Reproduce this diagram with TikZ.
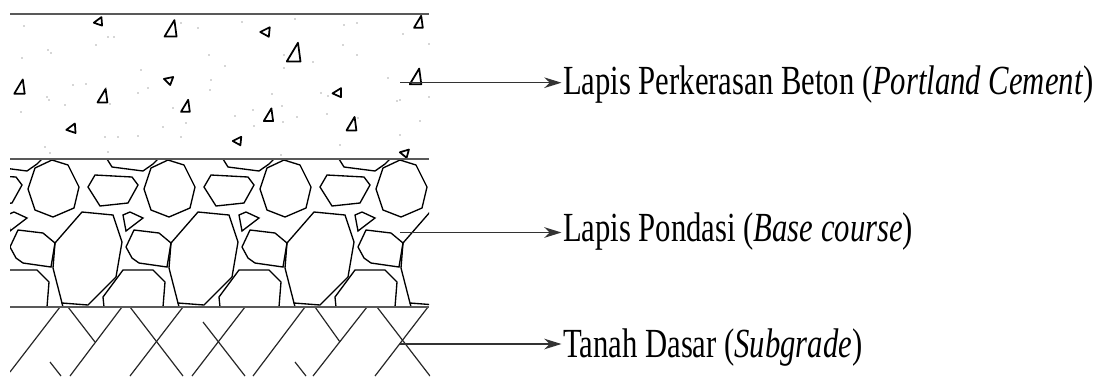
\documentclass[tikz,border=0pt]{standalone}
\usepackage{fontspec}
\setmainfont{Liberation Serif}
\usetikzlibrary{arrows.meta}
\begin{document}
\begin{tikzpicture}[x=0.75pt,y=-0.75pt,
  layerline/.style={draw=black!65,line width=1.6pt},
  stone/.style={draw=black,line width=1pt,line join=miter},
  soil/.style={draw=black!85,line width=0.9pt},
  agg/.style={draw=black,line width=1.3pt,line join=round},
  speck/.style={fill=black!70},
  leader/.style={draw=black!80,line width=1pt,-{Stealth[length=13pt,width=8pt]}},
  lbl/.style={anchor=base west,inner xsep=1pt,inner ysep=0pt,font=\fontsize{23}{27}\selectfont},
  tri/.pic={\path[agg] (-5,6) -- (6,6) -- (4,-9) -- cycle;},
  wedge/.pic={\path[agg] (-5,0) -- (5,-5) -- (4,5) -- cycle;},
]
\useasboundingbox (0,0) rectangle (1098,376);

% ---------- concrete slab: coarse aggregate and fine specks ----------
\foreach \px/\py/\s in {170/30/1.1, 293/54/1.25, 418/23/0.8, 19/88/0.95, 102/97/0.9,
                        415/78/1.05, 185/107/0.8, 268/116/0.85, 351/125/0.9}
  \pic[scale=\s] at (\px,\py) {tri};
\foreach \px/\py/\s/\r in {98/22/0.85/10, 265/32/0.95/0, 168/80/0.85/-15, 337/93/0.9/5,
                           71/129/0.95/10, 237/141/0.85/0, 404/153/0.85/-10}
  \pic[scale=\s,rotate=\r] at (\px,\py) {wedge};
\foreach \px/\py in {181/23,198/28,242/22,295/19,344/25,357/23,108/37,114/37,48/50,51/53,
                     96/45,22/58,209/55,284/55,225/66,284/68,313/62,343/45,357/55,403/34,
                     429/44,141/70,211/80,210/90,73/85,86/84,106/88,138/93,148/88,47/97,
                     49/100,65/105,110/104,173/108,272/94,321/93,328/96,388/78,397/101,
                     400/100,429/97,21/112,235/116,253/110,282/106,297/117,327/114,
                     186/123,163/127,254/126,283/122,358/118,420/121,105/137,118/137,
                     181/137,400/135,340/145,45/147,50/153,108/152,281/155,24/26,138/136}
  \fill[speck] (\px,\py) circle (0.6);

% ---------- base course: packed stones, one repeating tile ----------
\newcommand\basetile{%
  \path[stone] (52,160) -- (68,165) -- (79,187) -- (74,208) -- (53,217) -- (35,210) -- (28,189) -- (35,168) -- cycle;
  \path[stone] (95,175) -- (132,177) -- (138,185) -- (128,203) -- (100,206) -- (88,187) -- cycle;
  \path[stone] (107,159) -- (112,167) -- (143,171) -- (153,164) -- (158,159);
  \path[stone] (123,215) -- (130,212) -- (143,218) -- (126,231) -- cycle;
  \path[stone] (82,212) -- (113,215) -- (122,242) -- (116,277) -- (88,305) -- (62,303) -- (53,268) -- (55,243) -- cycle;
  \path[stone] (18,230) -- (43,233) -- (55,243) -- (51,267) -- (23,263) -- (16,258) -- (10,247) -- cycle;
  \path[stone] (104,307) -- (103,297) -- (123,270) -- (153,270) -- (165,282) -- (163,307);
  \path[stone] (62,303) -- (63,307);
}
\begin{scope}
  \clip (10,159) rectangle (429,307);
  \foreach \k in {-1,0,1,2,3} {
    \begin{scope}[shift={(\k*116,0)}]
      \basetile
    \end{scope}
  }
\end{scope}

% ---------- subgrade: crossing hatch ----------
\begin{scope}
  \clip (10,307) rectangle (430,376);
  \path[soil] (60,307) -- (10,372);
  \path[soil] (68,307) -- (95,342);
  \path[soil] (122,307) -- (70,376);
  \path[soil] (50,362) -- (61,376);
  \path[soil] (130,307) -- (183,376);
  \path[soil] (183,307) -- (130,376);
  \path[soil] (203,322) -- (245,376);
  \path[soil] (245,307) -- (192,376);
  \path[soil] (305,307) -- (253,376);
  \path[soil] (315,307) -- (340,342);
  \path[soil] (367,307) -- (313,376);
  \path[soil] (295,362) -- (306,376);
  \path[soil] (377,307) -- (430,376);
  \path[soil] (428,307) -- (375,376);
\end{scope}

% ---------- layer boundaries ----------
\path[layerline] (10,14) -- (429,14);
\path[layerline] (10,159) -- (429,159);
\path[layerline] (10,307) -- (429,307);

% ---------- labels ----------
\coordinate (src1) at (400,82.7);
\coordinate (src2) at (400,232.5);
\coordinate (src3) at (400,344);
\node[lbl] (lbl1) at (561.5,94.3) {\scalebox{1}[1.35]{Lapis Perkerasan Beton (\textit{Portland Cement})}};
\node[lbl] (lbl2) at (561.5,241.7) {\scalebox{1}[1.35]{Lapis Pondasi (\textit{Base course})}};
\node[lbl] (lbl3) at (561.5,357.3) {\scalebox{1}[1.35]{Tanah Dasar (\textit{Subgrade})}};
\draw[leader] (src1) -- (src1 -| lbl1.west);
\draw[leader] (src2) -- (src2 -| lbl2.west);
\draw[leader] (src3) -- (src3 -| lbl3.west);
\end{tikzpicture}
\end{document}
